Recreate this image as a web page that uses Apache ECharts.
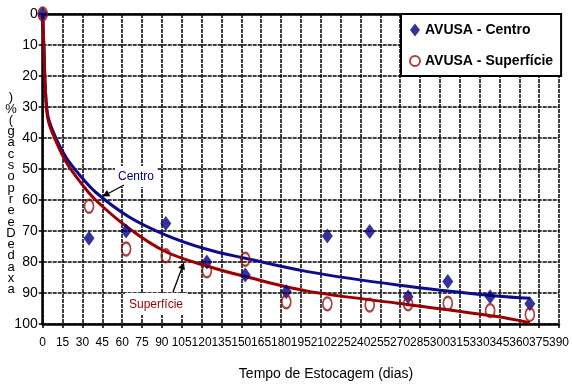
<!DOCTYPE html>
<html>
<head>
<meta charset="utf-8">
<script src="https://cdn.jsdelivr.net/npm/echarts@6/dist/echarts.min.js"></script>
<style>
html,body{margin:0;padding:0;background:#fff;}
#chart{width:572px;height:389px;}
</style>
</head>
<body>
<div id="chart"></div>
<script>
// ---- data ----
const centroDays = [0, 35, 63, 93, 124, 153, 184, 215, 247, 276, 306, 338, 368];
const centroVals = [0, 72.3, 70, 67.6, 80, 84.2, 89.6, 71.6, 70.2, 91.2, 86.3, 91.2, 93.5];
const superfDays = [0, 35, 63, 93, 124, 153, 184, 215, 247, 276, 306, 338, 368];
const superfVals = [0, 62, 75.8, 78, 82.8, 79.1, 92.8, 93.5, 93.9, 93.5, 93.3, 95.7, 96.9];
const trendDays  = [0, 1, 2, 4, 10, 18, 28, 40, 65, 93, 124, 153, 200, 268, 343, 368];
const centroFit  = [0, 12, 24, 33, 40, 46.5, 52, 57.5, 65.4, 71.3, 75.9, 78.8, 83.1, 87.4, 91, 91.7];
const superfFit  = [0, 12, 24, 34, 41, 48, 54, 60, 69.1, 76.7, 81.3, 84.7, 89.4, 93.3, 97.6, 99.6];
const seriesNames = ['AVUSA - Centro', 'AVUSA - Superfície'];
const xTitle = 'Tempo de Estocagem (dias)';
const yTitleChars = [')', '%', '(', 'g', 'a', 'c', 's', 'o', 'p', 'r', 'e', 'e', 'D', 'e', 'd', 'a', 'x', 'a'];
const noteCentro = 'Centro';
const noteSuperf = 'Superfície';

const FONT = '"Liberation Sans", Arial, sans-serif';
const zip = (xs, ys) => xs.map((x, i) => [x, ys[i]]);

function arrow(x1, y1, x2, y2) {
  const dx = x2 - x1, dy = y2 - y1, L = Math.hypot(dx, dy);
  const ux = dx / L, uy = dy / L, hl = 7, hw = 3.5;
  const bx = x2 - ux * hl, by = y2 - uy * hl;
  return [
    {type: 'line', z: 100, shape: {x1: x1, y1: y1, x2: bx, y2: by}, style: {stroke: '#000', lineWidth: 1.3}},
    {type: 'polygon', z: 100, shape: {points: [[x2, y2], [bx - uy * hw, by + ux * hw], [bx + uy * hw, by - ux * hw]]}, style: {fill: '#000'}}
  ];
}

const chart = echarts.init(document.getElementById('chart'), null, {renderer: 'canvas'});
const gridStyle = {show: true, lineStyle: {color: '#000', width: 1.5, type: [4, 1]}};

chart.setOption({
  animation: false,
  backgroundColor: '#fff',
  grid: {left: 42.7, right: 9.3, top: 14, bottom: 65, containLabel: false},
  xAxis: [{
    type: 'value', min: 0, max: 390, interval: 15, position: 'bottom',
    axisLine: {show: true, onZero: false, lineStyle: {color: '#000', width: 2.5}},
    axisTick: {show: true, length: 4, lineStyle: {color: '#000', width: 1.5}},
    axisLabel: {color: '#000', fontSize: 12, fontFamily: FONT, margin: 13},
    splitLine: gridStyle
  }, {
    type: 'value', min: 0, max: 390, interval: 15, position: 'top',
    axisLine: {show: true, onZero: false, lineStyle: {color: '#000', width: 2.5}},
    axisTick: {show: false}, axisLabel: {show: false}, splitLine: {show: false}
  }],
  yAxis: {
    type: 'value', min: 0, max: 100, interval: 10, inverse: true,
    axisLine: {show: true, onZero: false, lineStyle: {color: '#000', width: 2.5}},
    axisTick: {show: true, length: 4, lineStyle: {color: '#000', width: 1.5}},
    axisLabel: {color: '#000', fontSize: 14, fontFamily: FONT, margin: 5},
    splitLine: gridStyle
  },
  legend: {
    data: [{name: seriesNames[0], icon: 'diamond'}, {name: seriesNames[1], icon: 'circle'}],
    orient: 'vertical', left: 401, top: 14,
    padding: [9, 8, 8, 8], itemWidth: 10, itemHeight: 13, itemGap: 17,
    borderColor: '#000', borderWidth: 2, backgroundColor: '#fff',
    textStyle: {fontSize: 14, fontWeight: 'bold', fontFamily: FONT, color: '#000'}
  },
  series: [
    {type: 'line', name: 'fitC', data: zip(trendDays, centroFit), showSymbol: false, symbol: 'none',
     smooth: 0.35, lineStyle: {color: '#0c0c8c', width: 3}, z: 3, silent: true},
    {type: 'line', name: 'fitS', data: zip(trendDays, superfFit), showSymbol: false, symbol: 'none',
     smooth: 0.35, lineStyle: {color: '#990000', width: 3}, z: 3, silent: true},
    {type: 'scatter', name: seriesNames[0], data: zip(centroDays, centroVals), symbol: 'diamond',
     symbolSize: [11, 15], itemStyle: {color: '#000080'}, z: 5},
    {type: 'scatter', name: seriesNames[1], data: zip(superfDays, superfVals), symbol: 'circle',
     symbolSize: [9, 13], itemStyle: {color: 'rgba(255,255,255,0)', borderColor: '#9b0f0f', borderWidth: 2}, z: 6}
  ],
  graphic: [
    {type: 'text', z: 100, style: {text: yTitleChars.join('\n'), x: 11, y: 92, textAlign: 'center', textVerticalAlign: 'top',
      fontSize: 13, lineHeight: 11.3, fontFamily: FONT, fill: '#000'}},
    {type: 'text', z: 100, style: {text: xTitle, x: 326, y: 374, textAlign: 'center', textVerticalAlign: 'middle',
      fontSize: 14, fontFamily: FONT, fill: '#000'}},
    {type: 'rect', z: 99, shape: {x: 115, y: 166, width: 42, height: 21}, style: {fill: '#fff'}},
    {type: 'text', z: 100, style: {text: noteCentro, x: 136, y: 176.5, textAlign: 'center', textVerticalAlign: 'middle',
      fontSize: 12, fontFamily: FONT, fill: '#000080'}},
    {type: 'rect', z: 99, shape: {x: 125, y: 293, width: 62, height: 22}, style: {fill: '#fff'}},
    {type: 'text', z: 100, style: {text: noteSuperf, x: 156, y: 305, textAlign: 'center', textVerticalAlign: 'middle',
      fontSize: 12, fontFamily: FONT, fill: '#990000'}}
  ].concat(arrow(124, 185, 102.5, 196.5)).concat(arrow(173, 292, 184, 262.5))
});
</script>
</body>
</html>
